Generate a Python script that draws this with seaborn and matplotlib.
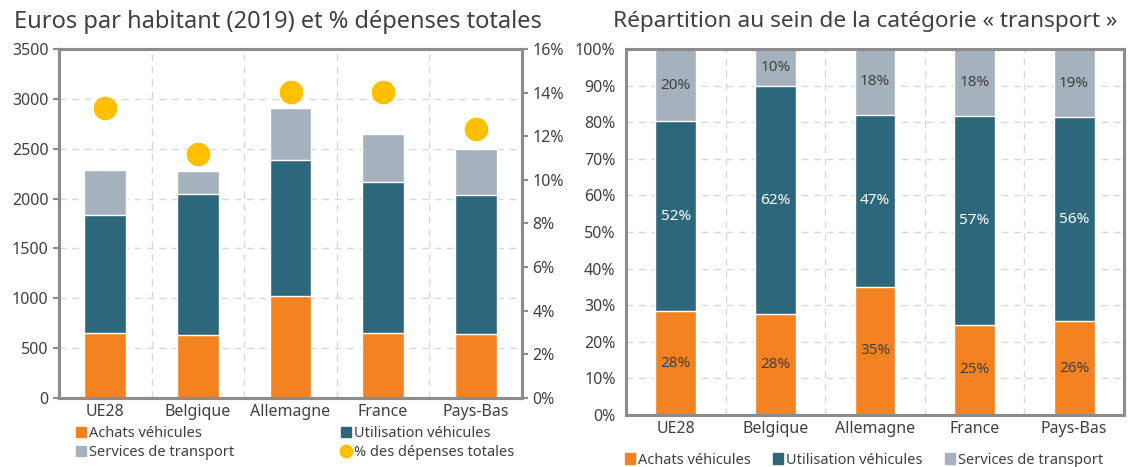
import numpy as np
import pandas as pd
import matplotlib
matplotlib.use('Agg')
import matplotlib.pyplot as plt
import seaborn as sns
from matplotlib.patches import Patch
from matplotlib.lines import Line2D
from matplotlib.ticker import FixedLocator, PercentFormatter

# Data
countries = ['UE28', 'Belgique', 'Allemagne', 'France', 'Pays-Bas']
achats = [650, 630, 1020, 650, 640]           # euros per inhabitant
utilisation = [1190, 1420, 1370, 1520, 1400]
services = [450, 230, 520, 480, 460]
pct_depenses = [13.3, 11.2, 14.05, 14.05, 12.35]  # % of total spending

share_achats = [28.4, 27.6, 35.1, 24.6, 25.6]     # % within transport
share_util = [51.8, 62.2, 46.9, 57.2, 55.8]
share_serv = [19.8, 10.2, 18.0, 18.2, 18.6]

series_names = ['Achats véhicules', 'Utilisation véhicules', 'Services de transport']
dot_name = '% des dépenses totales'

# Colours
c_orange = '#F58220'
c_teal = '#2D677C'
c_grey = '#A6B1BE'
c_yellow = '#FFC000'
c_text = '#404040'
c_spine = '#8C8C8C'
c_grid = '#D9D9D9'

sns.set_style('white')
plt.rcParams['font.family'] = ['Noto Sans', 'DejaVu Sans']
plt.rcParams['text.color'] = c_text
plt.rcParams['xtick.color'] = c_text
plt.rcParams['ytick.color'] = c_text

fig = plt.figure(figsize=(11.29, 4.67), dpi=100)
ax1 = fig.add_axes([59 / 1129, 69 / 467, 463 / 1129, 349 / 467])
ax2 = fig.add_axes([626 / 1129, 52 / 467, 498 / 1129, 366 / 467])


def style_axes(ax):
    for s in ax.spines.values():
        s.set_color(c_spine)
        s.set_linewidth(2.2)
    ax.xaxis.set_minor_locator(FixedLocator(np.arange(-0.5, 5, 1)))
    ax.tick_params(axis='x', which='major', length=0, labelsize=11.5, pad=4)
    ax.tick_params(axis='x', which='minor', length=4, width=1.5, color=c_spine)
    ax.tick_params(axis='y', length=4, width=1.5, color=c_spine, labelsize=11.5)
    ax.grid(True, axis='y', which='major', linestyle=(0, (5, 4)), color=c_grid, lw=1)
    ax.grid(True, axis='x', which='minor', linestyle=(0, (5, 4)), color=c_grid, lw=1)
    ax.set_axisbelow(True)
    ax.set_xlabel('')
    ax.set_ylabel('')
    ax.set_xlim(-0.5, 4.5)


# ---- Left chart: stacked euros per inhabitant + % dots
df = pd.DataFrame({'pays': countries, 'achats': achats,
                   'utilisation': utilisation, 'services': services})
df['top_util'] = df['achats'] + df['utilisation']
df['top_serv'] = df['top_util'] + df['services']

sns.barplot(data=df, x='pays', y='top_serv', color=c_grey, width=0.45,
            saturation=1, ax=ax1)
sns.barplot(data=df, x='pays', y='top_util', color=c_teal, width=0.45,
            saturation=1, ax=ax1)
sns.barplot(data=df, x='pays', y='achats', color=c_orange, width=0.45,
            saturation=1, ax=ax1)
ax1.set_ylim(0, 3500)
ax1.set_yticks(np.arange(0, 3501, 500))
style_axes(ax1)

ax1b = ax1.twinx()
sns.pointplot(x=countries, y=pct_depenses, color=c_yellow, linestyle='none',
              markers='o', markersize=15, ax=ax1b)
ax1b.set_ylim(0, 16)
ax1b.set_yticks(np.arange(0, 17, 2))
ax1b.yaxis.set_major_formatter(PercentFormatter(decimals=0))
ax1b.tick_params(axis='y', length=4, width=1.5, color=c_spine, labelsize=11.5)
for s in ax1b.spines.values():
    s.set_color(c_spine)
    s.set_linewidth(2.2)
ax1b.set_xlim(-0.5, 4.5)
ax1b.set_ylabel('')

fig.text(278 / 1129, 1 - 22 / 467, 'Euros par habitant (2019) et % dépenses totales',
         ha='center', va='center', fontsize=17, color=c_text)

# legend filled column by column: order gives 2 rows x 2 columns like the original
handles1 = [Patch(color=c_orange, label=series_names[0]),
            Patch(color=c_grey, label=series_names[2]),
            Patch(color=c_teal, label=series_names[1]),
            Line2D([], [], marker='o', color=c_yellow, linestyle='none',
                   markersize=9, label=dot_name)]
fig.legend(handles=handles1, ncol=2, loc='upper left',
           bbox_to_anchor=(76 / 1129, 1 - 426 / 467), frameon=False,
           fontsize=10.5, handlelength=0.7, handleheight=0.7,
           handletextpad=0.2, columnspacing=7.3, labelspacing=0.3,
           borderaxespad=0, borderpad=0)

# ---- Right chart: shares within transport
df2 = pd.DataFrame({'pays': countries, 'achats': share_achats,
                    'util': share_util, 'serv': share_serv})
df2['top_util'] = df2['achats'] + df2['util']
df2['top_serv'] = df2['top_util'] + df2['serv']

bar_width = 0.41
sns.barplot(data=df2, x='pays', y='top_serv', color=c_grey, width=bar_width,
            saturation=1, ax=ax2)
sns.barplot(data=df2, x='pays', y='top_util', color=c_teal, width=bar_width,
            saturation=1, ax=ax2)
sns.barplot(data=df2, x='pays', y='achats', color=c_orange, width=bar_width,
            saturation=1, ax=ax2)
ax2.set_ylim(0, 100)
ax2.set_yticks(np.arange(0, 101, 10))
ax2.yaxis.set_major_formatter(PercentFormatter(decimals=0))
style_axes(ax2)

for i, row in df2.iterrows():
    ax2.text(i, row['achats'] / 2, f"{row['achats']:.0f}%", ha='center',
             va='center', fontsize=11, color=c_text)
    ax2.text(i, row['achats'] + row['util'] / 2, f"{row['util']:.0f}%",
             ha='center', va='center', fontsize=11, color='white')
    ax2.text(i, row['top_util'] + row['serv'] / 2, f"{row['serv']:.0f}%",
             ha='center', va='center', fontsize=11, color=c_text)

fig.text(865 / 1129, 1 - 22 / 467, 'Répartition au sein de la catégorie « transport »',
         ha='center', va='center', fontsize=16.3, color=c_text)

handles2 = [Patch(color=c_orange, label=series_names[0]),
            Patch(color=c_teal, label=series_names[1]),
            Patch(color=c_grey, label=series_names[2])]
fig.legend(handles=handles2, ncol=3, loc='center',
           bbox_to_anchor=(864 / 1129, 1 - 460 / 467), frameon=False,
           fontsize=10.5, handlelength=0.7, handleheight=0.7,
           handletextpad=0.2, columnspacing=1.5, borderaxespad=0, borderpad=0)

fig.savefig('out.png', dpi=100)
